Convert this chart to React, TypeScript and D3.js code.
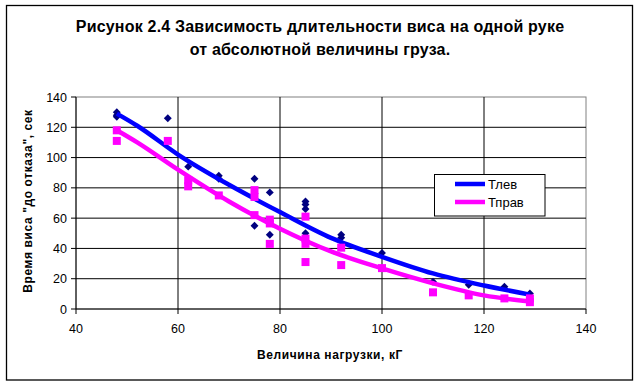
import React from 'react';
import * as d3 from 'd3';

// scatter data: load (kg) and hang time (s)
const leftX = [48, 48, 48, 58, 62, 68, 68, 75, 75, 78, 78, 85, 85, 85, 85, 92, 92, 100, 110, 117, 124, 129];
const leftY = [130, 128, 127, 126, 94, 88, 86, 86, 55, 77, 49, 71, 69, 66, 50, 49, 47, 37, 18, 16, 14.7, 10.3];
const rightX = [48, 48, 58, 62, 62, 68, 75, 75, 75, 78, 78, 78, 85, 85, 85, 85, 92, 92, 100, 110, 117, 124, 129, 129];
const rightY = [118, 111, 111, 85, 81, 75, 78.5, 74, 62, 59, 56.5, 43, 61, 46.5, 43, 31, 40.5, 29, 27, 11, 9, 7, 7, 4.5];

// trend lines
const trendX = [48, 52, 60, 70, 80, 90, 100, 110, 120, 129];
const trendLeft = [129, 121, 102, 82, 64, 47, 34.5, 23.5, 15.5, 9.5];
const trendRight = [118, 110, 92, 71, 53, 38, 26.8, 17, 9, 5];

const xTicks = [40, 60, 80, 100, 120, 140];
const yTicks = [0, 20, 40, 60, 80, 100, 120, 140];

const W = 640;
const H = 386;
const font = '"Liberation Sans", Arial, sans-serif';

export default function App() {
  const x = d3.scaleLinear().domain([40, 140]).range([76, 586]);
  const y = d3.scaleLinear().domain([0, 140]).range([309, 97]);

  const line = d3
    .line<number>()
    .x((d, i) => x(trendX[i]))
    .y((d) => y(d))
    .curve(d3.curveMonotoneX);

  const diamond = d3.symbol(d3.symbolDiamond2, 40)();

  return (
    <svg width={W} height={H} style={{ display: 'block' }} fontFamily={font}>
      <style>{`body{margin:0}`}</style>
      <rect x={6.5} y={5.5} width={626} height={374.5} fill="#fff" stroke="#000" strokeWidth={1.3} />

      <text x={320} y={32} textAnchor="middle" fontSize={16} fontWeight="bold" letterSpacing={0.2}>
        Рисунок 2.4 Зависимость длительности виса на одной руке
      </text>
      <text x={320} y={55} textAnchor="middle" fontSize={16} fontWeight="bold" letterSpacing={0.2}>
        от абсолютной величины груза.
      </text>

      {/* plot frame */}
      <rect x={76} y={97} width={510} height={212} fill="#fff" stroke="#808080" />

      {/* grid */}
      {yTicks.slice(1, -1).map((t) => (
        <line key={'gy' + t} x1={76} x2={586} y1={y(t)} y2={y(t)} stroke="#000" />
      ))}
      {xTicks.slice(1, -1).map((t) => (
        <line key={'gx' + t} x1={x(t)} x2={x(t)} y1={97} y2={309} stroke="#000" />
      ))}

      {/* axes */}
      <line x1={76} x2={76} y1={97} y2={309} stroke="#000" />
      <line x1={76} x2={586} y1={309} y2={309} stroke="#000" />
      {yTicks.map((t) => (
        <g key={'ty' + t}>
          <line x1={71} x2={76} y1={y(t)} y2={y(t)} stroke="#000" />
          <text x={67} y={y(t) + 4.5} textAnchor="end" fontSize={12.5}>
            {t}
          </text>
        </g>
      ))}
      {xTicks.map((t) => (
        <g key={'tx' + t}>
          <line x1={x(t)} x2={x(t)} y1={309} y2={314} stroke="#000" />
          <text x={x(t)} y={333} textAnchor="middle" fontSize={12.5}>
            {t}
          </text>
        </g>
      ))}

      <text x={330} y={359} textAnchor="middle" fontSize={12} fontWeight="bold" letterSpacing={0.6}>
        Величина нагрузки, кГ
      </text>
      <text
        transform="translate(32,201) rotate(-90)"
        textAnchor="middle"
        fontSize={12}
        fontWeight="bold"
        letterSpacing={0.6}
      >
        Время виса "до отказа", сек
      </text>

      {/* left hand */}
      {leftX.map((v, i) => (
        <path key={'d' + i} d={diamond} transform={`translate(${x(v)},${y(leftY[i])})`} fill="#000080" />
      ))}
      <path d={line(trendLeft) || ''} fill="none" stroke="#0000ff" strokeWidth={4.5} />

      {/* right hand */}
      {rightX.map((v, i) => (
        <rect key={'s' + i} x={x(v) - 4} y={y(rightY[i]) - 4} width={8} height={8} fill="#ff00ff" />
      ))}
      <path d={line(trendRight) || ''} fill="none" stroke="#ff00ff" strokeWidth={4.5} />

      {/* legend */}
      <rect x={434.5} y={174.5} width={110.5} height={41.5} fill="#fff" stroke="#000" />
      <line x1={455} x2={485} y1={184} y2={184} stroke="#0000ff" strokeWidth={4.5} />
      <line x1={455} x2={485} y1={202} y2={202} stroke="#ff00ff" strokeWidth={4.5} />
      <text x={488} y={189} fontSize={13}>
        Тлев
      </text>
      <text x={488} y={207} fontSize={13}>
        Тправ
      </text>
    </svg>
  );
}
